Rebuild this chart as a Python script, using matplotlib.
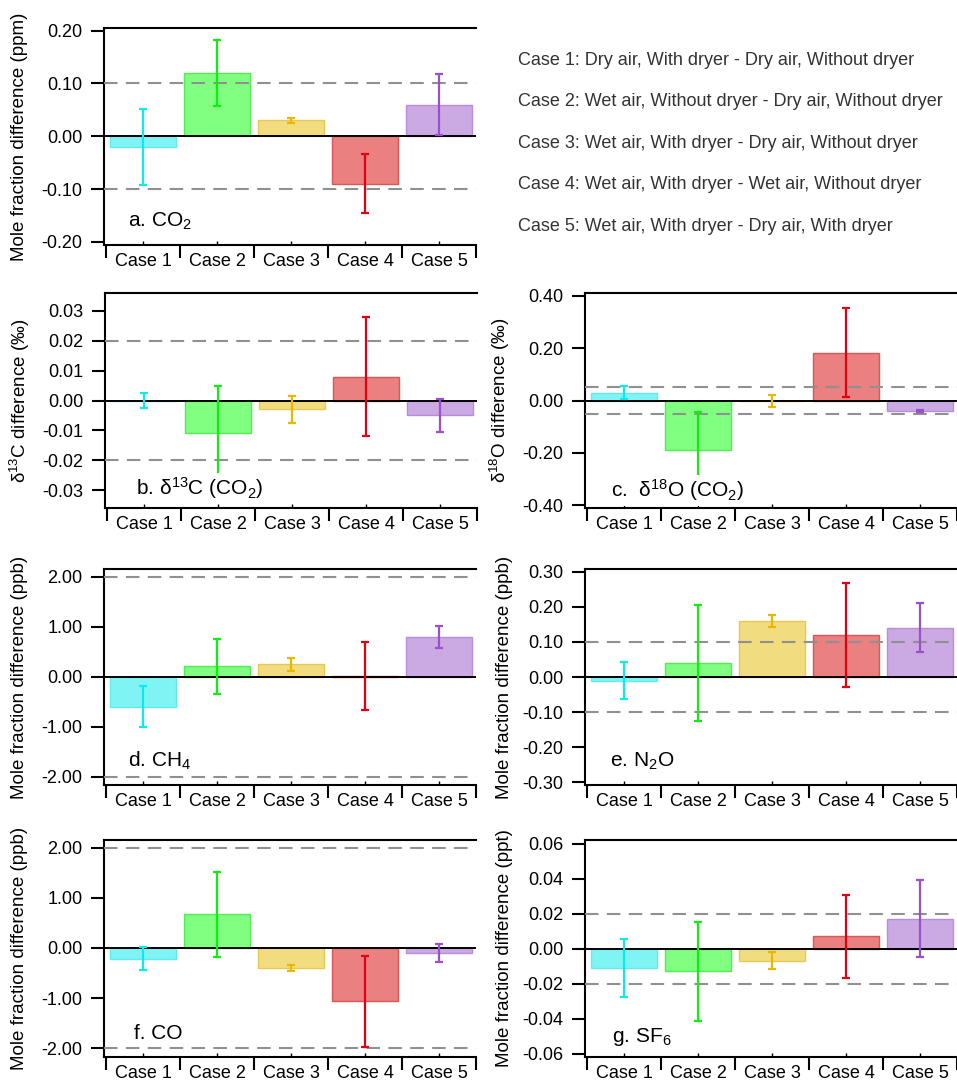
import matplotlib
matplotlib.use("Agg")
import matplotlib.pyplot as plt
from matplotlib.ticker import FixedLocator, FormatStrFormatter
import numpy as np

plt.rcParams['font.family'] = ['Liberation Sans', 'DejaVu Sans']
plt.rcParams['mathtext.fontset'] = 'custom'
plt.rcParams['mathtext.rm'] = 'Liberation Sans'
plt.rcParams['mathtext.it'] = 'Liberation Sans:italic'
plt.rcParams['mathtext.default'] = 'regular'
plt.rcParams['axes.unicode_minus'] = False

# ---------------- data ----------------
cases = ["Case 1", "Case 2", "Case 3", "Case 4", "Case 5"]
case_desc = [
    "Case 1: Dry air, With dryer - Dry air, Without dryer",
    "Case 2: Wet air, Without dryer - Dry air, Without dryer",
    "Case 3: Wet air, With dryer - Dry air, Without dryer",
    "Case 4: Wet air, With dryer - Wet air, Without dryer",
    "Case 5: Wet air, With dryer - Dry air, With dryer",
]

co2_vals = [-0.02, 0.12, 0.03, -0.09, 0.06]
co2_err = [0.072, 0.062, 0.005, 0.056, 0.058]
d13c_vals = [0.0, -0.011, -0.003, 0.008, -0.005]
d13c_err = [0.0025, 0.016, 0.0044, 0.020, 0.0056]
d18o_vals = [0.03, -0.19, -0.003, 0.182, -0.039]
d18o_err = [0.024, 0.145, 0.023, 0.17, 0.003]
ch4_vals = [-0.60, 0.21, 0.25, 0.02, 0.79]
ch4_err = [0.41, 0.55, 0.13, 0.68, 0.22]
n2o_vals = [-0.01, 0.04, 0.16, 0.12, 0.14]
n2o_err = [0.054, 0.165, 0.018, 0.149, 0.07]
co_vals = [-0.21, 0.67, -0.40, -1.06, -0.10]
co_err = [0.23, 0.85, 0.063, 0.91, 0.183]
sf6_vals = [-0.011, -0.013, -0.007, 0.007, 0.017]
sf6_err = [0.0167, 0.0283, 0.0048, 0.0237, 0.0219]

thresholds = [0.1, 0.02, 0.05, 2.0, 0.1, 2.0, 0.02]

fill_colors = ["#80F4F4", "#80FF80", "#F2DC80", "#EA8080", "#CBA9E3"]
edge_colors = ["#60ECEC", "#50EE50", "#E8C850", "#DD5555", "#B88CDB"]
err_colors = ["#10E8F0", "#10EE10", "#E8B800", "#E00010", "#9A50CC"]

# ---------------- layout ----------------
W, H = 957, 1083
fig = plt.figure(figsize=(W / 100, H / 100), dpi=100)

def ax_at(left, top, right, bottom):
    return fig.add_axes([left / W, 1 - bottom / H, (right - left) / W, (bottom - top) / H])

panels = [
    dict(pos=(104, 28, 476, 245), vals=co2_vals, err=co2_err, ylim=(-0.206, 0.205),
         ticks=[-0.2, -0.1, 0.0, 0.1, 0.2], ylabel="Mole fraction difference (ppm)",
         label=r"a. CO$_2$", lpos=(0.065, 0.083), thr=thresholds[0], lab_x=-0.204),
    dict(pos=(105, 293, 477, 508), vals=d13c_vals, err=d13c_err, ylim=(-0.036, 0.036),
         ticks=[-0.03, -0.02, -0.01, 0.0, 0.01, 0.02, 0.03], ylabel=r"δ$^{13}$C difference (‰)",
         label=r"b. δ$^{13}$C (CO$_2$)", lpos=(0.083, 0.06), thr=thresholds[1], lab_x=-0.197),
    dict(pos=(585, 293, 957, 508), vals=d18o_vals, err=d18o_err, ylim=(-0.41, 0.41),
         ticks=[-0.4, -0.2, 0.0, 0.2, 0.4], ylabel=r"δ$^{18}$O difference (‰)",
         label=r"c.  δ$^{18}$O (CO$_2$)", lpos=(0.07, 0.05), thr=thresholds[2], lab_x=-0.197),
    dict(pos=(104, 569, 476, 785), vals=ch4_vals, err=ch4_err, ylim=(-2.17, 2.15),
         ticks=[-2, -1, 0, 1, 2], ylabel="Mole fraction difference (ppb)",
         label=r"d. CH$_4$", lpos=(0.065, 0.085), thr=thresholds[3], lab_x=-0.204),
    dict(pos=(585, 569, 957, 785), vals=n2o_vals, err=n2o_err, ylim=(-0.308, 0.308),
         ticks=[-0.3, -0.2, -0.1, 0.0, 0.1, 0.2, 0.3], ylabel="Mole fraction difference (ppb)",
         label=r"e. N$_2$O", lpos=(0.067, 0.083), thr=thresholds[4], lab_x=-0.194),
    dict(pos=(104, 840, 476, 1057), vals=co_vals, err=co_err, ylim=(-2.17, 2.15),
         ticks=[-2, -1, 0, 1, 2], ylabel="Mole fraction difference (ppb)",
         label="f. CO", lpos=(0.08, 0.083), thr=thresholds[5], lab_x=-0.204),
    dict(pos=(585, 840, 957, 1057), vals=sf6_vals, err=sf6_err, ylim=(-0.062, 0.062),
         ticks=[-0.06, -0.04, -0.02, 0.0, 0.02, 0.04, 0.06], ylabel="Mole fraction difference (ppt)",
         label=r"g. SF$_6$", lpos=(0.072, 0.07), thr=thresholds[6], lab_x=-0.194),
]

x = np.arange(1, len(cases) + 1)
FS = 13

for p in panels:
    ax = ax_at(*p["pos"])
    ax.bar(x, p["vals"], width=0.9, color=fill_colors, edgecolor=edge_colors,
           linewidth=1.0, zorder=2)
    for xi, v, e, c in zip(x, p["vals"], p["err"], err_colors):
        ax.errorbar(xi, v, yerr=e, fmt="none", ecolor=c, elinewidth=1.6,
                    capsize=3.2, capthick=1.6, zorder=4)
    for s in (1, -1):
        ax.axhline(s * p["thr"], color="#909090", lw=1.5, dashes=(6.5, 4.0), zorder=3)
    ax.axhline(0, color="black", lw=1.4, zorder=3.5)

    ax.set_xlim(0.473, 5.5)
    ax.set_ylim(*p["ylim"])
    ax.spines["right"].set_visible(False)
    for s in ("left", "top", "bottom"):
        ax.spines[s].set_linewidth(1.5)

    ax.yaxis.set_major_locator(FixedLocator(p["ticks"]))
    ax.yaxis.set_major_formatter(FormatStrFormatter("%.2f"))
    ax.tick_params(axis="y", which="major", direction="out", length=9.5, width=1.5,
                   labelsize=FS, pad=6, right=False)

    ax.set_xticks(x)
    ax.set_xticklabels(cases)
    ax.xaxis.set_minor_locator(FixedLocator(np.arange(0.5, 6.0, 1.0)))
    ax.tick_params(axis="x", which="major", direction="in", length=3, width=1.0,
                   labelsize=FS, pad=6, top=False)
    ax.tick_params(axis="x", which="minor", direction="out", length=9, width=1.5, top=False)

    ax.set_ylabel(p["ylabel"], fontsize=13.5)
    ax.yaxis.set_label_coords(p["lab_x"], 0.5)

    ax.text(p["lpos"][0], p["lpos"][1], p["label"], transform=ax.transAxes,
            fontsize=15, ha="left", va="baseline", zorder=6,
            bbox=dict(facecolor="white", edgecolor="none", pad=2.0))

for i, t in enumerate(case_desc):
    fig.text(518 / W, 1 - (65 + 41.4 * i) / H, t, fontsize=FS, ha="left",
             va="baseline", color="#333333")

fig.savefig("out.png", dpi=100)
